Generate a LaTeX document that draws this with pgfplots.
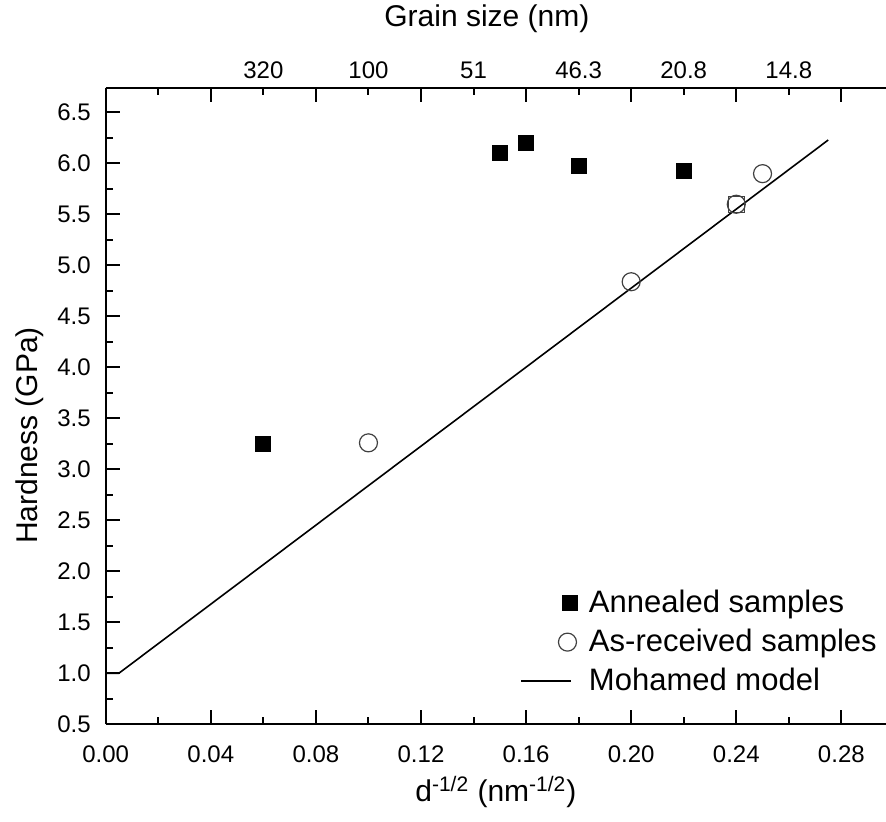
\documentclass[border=0pt]{standalone}
\usepackage{fontspec}
\setmainfont{Liberation Sans}
\usepackage{pgfplots}
\pgfplotsset{compat=1.18}
\pgfplotsset{
    leg mark/.style={legend image code/.code={\draw[##1] plot coordinates {(#1,0pt)};}},
    leg line/.style={legend image code/.code={\draw[##1] (0pt,0pt) -- (25pt,0pt);}},
}

\begin{document}
\begin{tikzpicture}
% main axis: bottom and left
\begin{axis}[
    name=main,
    scale only axis,
    width=390pt, height=318pt,
    xmin=0, xmax=0.297,
    ymin=0.5, ymax=6.74,
    axis x line=bottom, axis y line=left,
    axis line style={-, line width=1pt},
    tick align=inside,
    major tick length=7pt, minor tick length=3.5pt,
    every tick/.style={black, line width=1pt},
    xtick={0,0.04,...,0.29}, minor x tick num=1,
    ytick={0.5,1.0,...,6.6}, minor y tick num=1,
    xticklabel style={/pgf/number format/.cd, fixed, fixed zerofill, precision=2},
    yticklabel style={/pgf/number format/.cd, fixed, fixed zerofill, precision=1},
    xticklabel shift=7pt, yticklabel shift=4pt,
    /pgf/number format/assume math mode=true,
    tick label style={font=\fontsize{12}{14}\selectfont},
    label style={font=\fontsize{15}{18}\selectfont},
    xlabel={d\textsuperscript{-1/2} (nm\textsuperscript{-1/2})},
    ylabel={Hardness (GPa)},
    ylabel style={at={(ticklabel cs:0.454)}},
    legend style={draw=none, fill=none, at={(axis cs:0.1555,1.895)}, anchor=north west,
        font=\fontsize{15.5}{18}\selectfont, row sep=2.75pt, cells={anchor=west},
        /tikz/every odd column/.append style={column sep=4pt}},
]
\addplot[only marks, mark=square*, mark size=3.75pt, black, leg mark=24pt]
    coordinates {(0.06,3.25) (0.15,6.10) (0.16,6.20) (0.18,5.98) (0.22,5.93)};
\addlegendentry{Annealed samples}
\addplot[only marks, mark=o, mark size=4.5pt, draw=black!75, line width=0.6pt, leg mark=23pt]
    coordinates {(0.10,3.26) (0.20,4.84) (0.24,5.60) (0.25,5.90)};
\addlegendentry{As-received samples}
\addplot[forget plot, only marks, mark=square, mark size=4pt, draw=black!75, line width=0.6pt]
    coordinates {(0.24,5.60)};
\addplot[black, line width=0.8pt, mark=none, leg line]
    coordinates {(0,1.0) (0.005,1.0) (0.275,6.23)};
\addlegendentry{Mohamed model}
\end{axis}
% top axis: grain size
\begin{axis}[
    scale only axis,
    width=390pt, height=318pt,
    xmin=0, xmax=0.297,
    ymin=0.5, ymax=6.74,
    axis x line=top, axis y line=none,
    axis line style={-, line width=1pt},
    tick align=inside,
    major tick length=3.5pt, minor tick length=3.5pt,
    every tick/.style={black, line width=1pt},
    xtick={0.06,0.10,0.14,0.18,0.22,0.26},
    xticklabels={320,100,51,46.3,20.8,14.8},
    minor xtick={0.02},
    extra x ticks={0,0.04,0.08,0.12,0.16,0.20,0.24,0.28},
    extra x tick labels={},
    extra x tick style={major tick length=7pt},
    xticklabel shift=1pt,
    tick label style={font=\fontsize{12}{14}\selectfont},
    label style={font=\fontsize{15}{18}\selectfont},
    xlabel={Grain size (nm)},
    xlabel style={yshift=5.5pt, xshift=-4.5pt},
]
\end{axis}
\pgfresetboundingbox
\path[use as bounding box] ([xshift=-52.85pt, yshift=-48.5pt]main.south west)
    rectangle ([yshift=44pt]main.north east);
\end{tikzpicture}
\end{document}
